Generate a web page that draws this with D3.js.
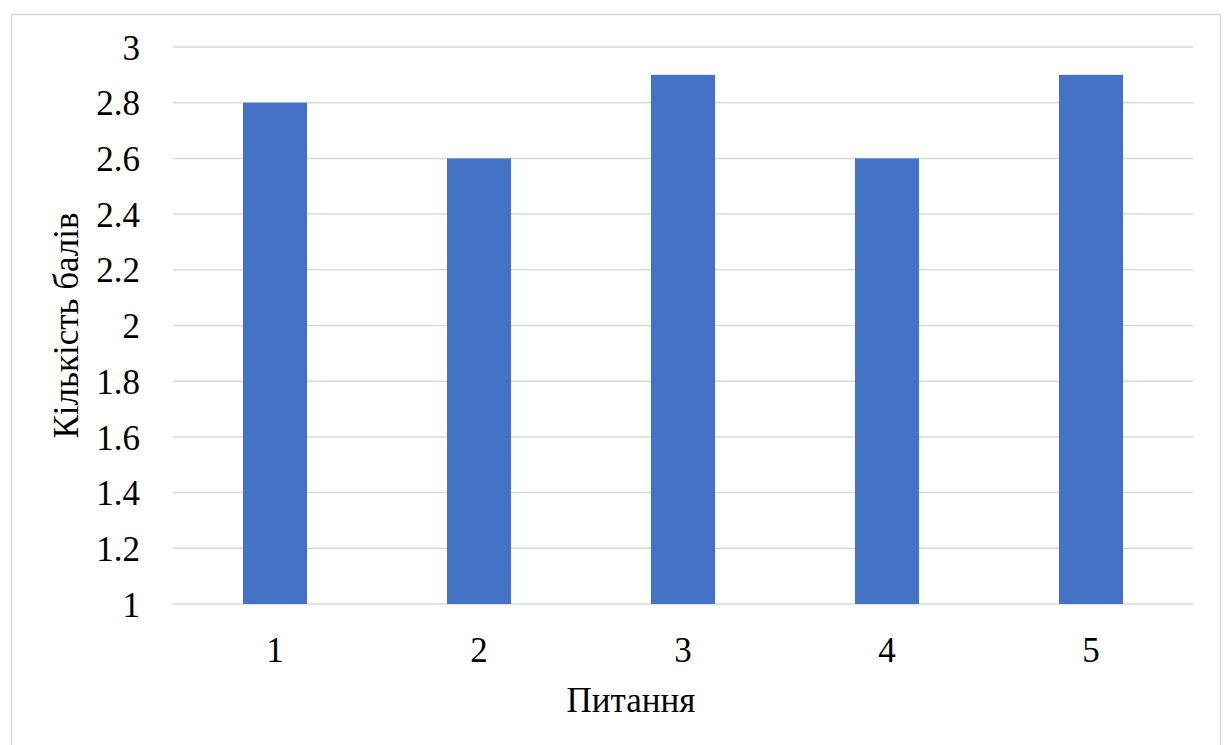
<!DOCTYPE html>
<html><head><meta charset="utf-8">
<script src="https://cdn.jsdelivr.net/npm/d3@7"></script>
</head><body style="margin:0">
<svg id="chart" width="1224" height="745" font-family="Liberation Serif, Times New Roman, Tinos, serif"></svg>
<script>
const categories = ["1", "2", "3", "4", "5"];
const values = [2.8, 2.6, 2.9, 2.6, 2.9];
const yTicks = [1, 1.2, 1.4, 1.6, 1.8, 2, 2.2, 2.4, 2.6, 2.8, 3];
const xTitle = "Питання";
const yTitle = "Кількість балів";

const svg = d3.select("#chart");
const mLeft = 173, mRight = 1193, mTop = 47, mBottom = 604;
const serif = d => `"Liberation Serif"`;

svg.append("rect").attr("x", 11.5).attr("y", 14.5).attr("width", 1209).attr("height", 760)
  .attr("fill", "#fff").attr("stroke", "#d9d9d9").attr("stroke-width", 1.5);

const x = d3.scaleBand().domain(categories).range([mLeft, mRight]).paddingInner(0.686).paddingOuter(0.343);
const y = d3.scaleLinear().domain([1, 3]).range([mBottom, mTop]);

// gridlines
svg.append("g").selectAll("line").data(yTicks).join("line")
  .attr("x1", mLeft).attr("x2", mRight)
  .attr("y1", d => y(d)).attr("y2", d => y(d))
  .attr("stroke", "#d9d9d9").attr("stroke-width", 1.5);

// y labels
svg.append("g").selectAll("text").data(yTicks).join("text")
  .attr("x", mLeft - 33).attr("y", d => y(d)).attr("dy", "0.36em")
  .attr("text-anchor", "end")
  .style("font-family", serif).style("font-size", "35px")
  .text(d => String(+d.toFixed(1)));

// bars
svg.append("g").selectAll("rect").data(values).join("rect")
  .attr("x", (d, i) => x(categories[i]))
  .attr("width", x.bandwidth())
  .attr("y", d => y(d))
  .attr("height", d => y(1) - y(d))
  .attr("fill", "#4472c4");

// x labels
svg.append("g").selectAll("text").data(categories).join("text")
  .attr("x", d => x(d) + x.bandwidth() / 2).attr("y", mBottom + 58)
  .attr("text-anchor", "middle")
  .style("font-family", serif).style("font-size", "35px")
  .text(d => d);

svg.append("g").selectAll("text").data([xTitle]).join("text")
  .attr("x", (mLeft + mRight) / 2 - 52).attr("y", 712).attr("text-anchor", "middle")
  .style("font-family", serif).style("font-size", "35px").text(d => d);

svg.append("g").selectAll("text").data([yTitle]).join("text")
  .attr("transform", `translate(78,${(mTop + mBottom) / 2}) rotate(-90)`)
  .attr("text-anchor", "middle").style("font-family", serif).style("font-size", "35px").text(d => d);
</script>
</body></html>
